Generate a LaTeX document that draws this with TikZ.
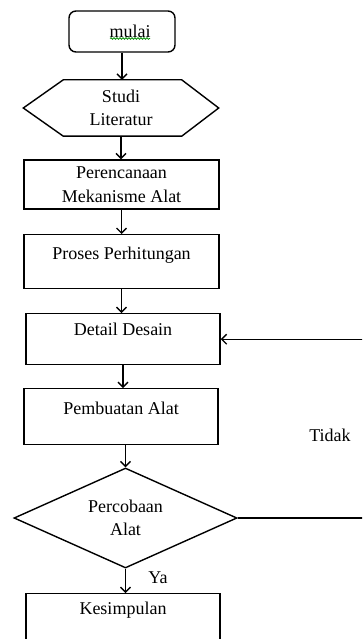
\documentclass[tikz,border=0pt]{standalone}
\usepackage{fontspec}
\setmainfont{Liberation Serif}
\usetikzlibrary{arrows.meta,shapes.geometric,calc,decorations.pathmorphing}
\begin{document}
\begin{tikzpicture}[x=1pt,y=-1pt, line width=1.4pt,
  every node/.style={font=\fontsize{18}{23.5}\selectfont},
  box/.style={draw, rectangle, inner sep=0pt, minimum width=195pt, align=center},
  arr/.style={-{Straight Barb[length=5pt,width=10pt]}}]
\useasboundingbox (0,0) rectangle (362,639);
\clip (0,0) rectangle (362,639);

\node[draw, rounded corners=7pt, minimum width=106pt, minimum height=41pt, inner sep=0pt] (mul) at (122,31.5) {\hspace*{16pt}mulai};
\draw[green!55!black, line width=0.8pt, decorate, decoration={snake,amplitude=0.8pt,segment length=3pt}]
  ($(mul.center)+(-12,7)$) -- ($(mul.center)+(28,7)$);

\node[minimum width=194pt, minimum height=55pt, inner sep=0pt, align=center] (lit) at (121,108) {Studi\\Literatur};
\draw (lit.west) -- ($(lit.north west)+(40,0)$) -- ($(lit.north east)+(-37,0)$) -- (lit.east)
  -- ($(lit.south east)+(-37,0)$) -- ($(lit.south west)+(40,0)$) -- cycle;

\node[box, minimum height=49pt] (per) at (121.5,184.5) {Perencanaan\\Mekanisme Alat};
\node[box, text height=24.5pt, text depth=29.5pt, anchor=north] (pro) at (121.5,234) {Proses Perhitungan};
\node[box, minimum width=194pt, text height=21.5pt, text depth=29.5pt, anchor=north] (det) at (123,313) {Detail Desain};
\node[box, minimum width=194pt, text height=25.5pt, text depth=30.5pt, anchor=north] (pem) at (121,388) {Pembuatan Alat};
\node[diamond, draw, aspect=2.23, minimum width=223pt, minimum height=100pt, inner sep=0pt, align=center] (dia) at (125.5,518) {Percobaan\\Alat};
\node[box, minimum width=194pt, text height=20.5pt, text depth=40pt, anchor=north] (kes) at (123,593) {Kesimpulan};

\node (ya) at (158,578) {Ya};
\node (tidak) at (330,435) {Tidak};

\draw[arr] (mul.south) -- (mul.south |- lit.north);
\draw[arr] (lit.south) -- (lit.south |- per.north);
\draw[arr] (per.south) -- (per.south |- pro.north);
\draw[arr] (pro.south) -- (pro.south |- det.north);
\draw[arr] (det.south) -- (det.south |- pem.north);
\draw[arr] (dia.north |- pem.south) -- (dia.north);
\draw[arr] (dia.south) -- (dia.south |- kes.north);
\draw[arr] (dia.east) -- ++(140,0) |- (det.east);
\end{tikzpicture}
\end{document}
